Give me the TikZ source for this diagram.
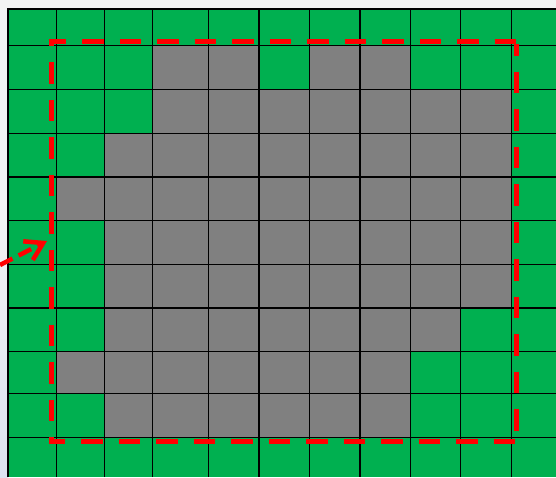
\documentclass[tikz,border=0pt]{standalone}
\usetikzlibrary{arrows.meta}
\definecolor{cellgreen}{HTML}{00B050}
\definecolor{cellgray}{HTML}{808080}
\definecolor{bgpage}{HTML}{F3F3F3}
\definecolor{bgblue}{HTML}{DCE2F0}
\definecolor{markred}{HTML}{FF0000}
\tikzset{
  gridline/.style={black, line width=1.3pt},
  graycell/.style={fill=cellgray},
  redborder/.style={markred, line width=5pt},
  redarrow/.style={markred, line width=4.5pt, dash pattern=on 14pt off 7pt,
    -{Straight Barb[length=17pt,width=21pt]}}
}
\begin{document}
\begin{tikzpicture}[x=1pt,y=-1pt]
  % page background and margins
  \fill[bgpage] (0,0) rectangle (556,477);
  \shade[top color=bgpage, bottom color=bgblue] (0,200) rectangle (8,477);
  \useasboundingbox (0,0) rectangle (556,477);
  % green field
  \fill[cellgreen] (8,9) rectangle (556,477);
  % gray cells, row by row
  \fill[graycell] (152.7,45.3) rectangle (259,89.7);
  \fill[graycell] (309.3,45.3) rectangle (410.7,89.7);
  \fill[graycell] (152.7,89.7) rectangle (511.7,133.3);
  \fill[graycell] (104.7,133.3) rectangle (511.7,177);
  \fill[graycell] (56.3,177) rectangle (511.7,220.3);
  \fill[graycell] (104.7,220.3) rectangle (511.7,308);
  \fill[graycell] (104.7,308) rectangle (460.7,351.7);
  \fill[graycell] (56.3,351.7) rectangle (410.7,393.7);
  \fill[graycell] (104.7,393.7) rectangle (410.7,437.7);
  % grid lines
  \foreach \gx in {8,56.3,104.7,152.7,208.3,259,309.3,360,410.7,460.7,511.7}
    \draw[gridline] (\gx,8.5) -- (\gx,477);
  \foreach \gy in {9,45.3,89.7,133.3,177,220.3,264.3,308,351.7,393.7,437.7}
    \draw[gridline] (7.4,\gy) -- (556,\gy);
  % red dashed frame
  \coordinate (tl) at (51,41.3);
  \coordinate (tr) at (516,41.3);
  \coordinate (bl) at (51,441);
  \coordinate (br) at (516,441);
  \draw[redborder, dash pattern=on 21.5pt off 16pt, dash phase=4pt] ([xshift=-2.5pt]tl) -- (tr);
  \draw[redborder, dash pattern=on 21.5pt off 16pt, dash phase=16.5pt] (tl) -- (bl);
  \draw[redborder, dash pattern=on 21.5pt off 16pt, dash phase=5pt] ([xshift=-2.5pt]bl) -- (br);
  \draw[redborder, dash pattern=on 21.5pt off 16pt, dash phase=9.5pt] ([yshift=-2.5pt]tr) -- (br);
  % red dashed arrow
  \coordinate (atail) at (0,265);
  \coordinate (ahead) at (47,241);
  \draw[redarrow] (atail) -- (ahead);
\end{tikzpicture}
\end{document}
